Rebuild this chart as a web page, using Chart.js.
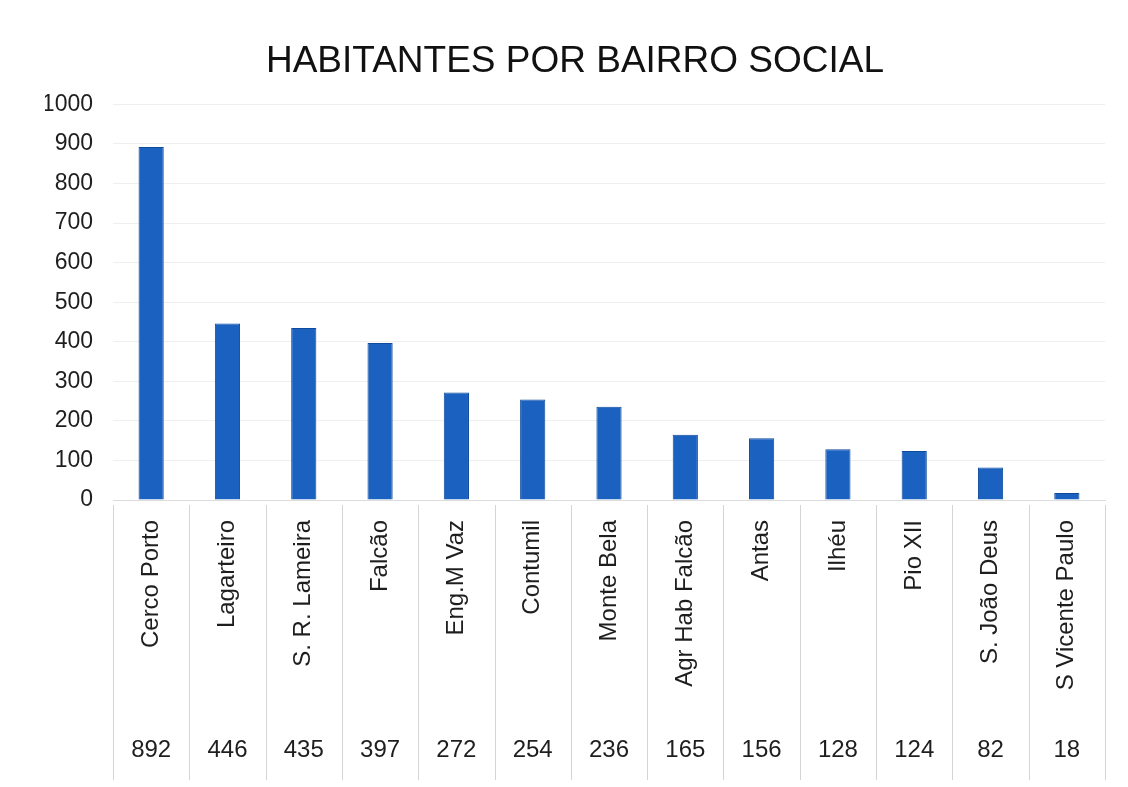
<!DOCTYPE html>
<html>
<head>
<meta charset="utf-8">
<script src="https://cdn.jsdelivr.net/npm/chart.js@4.4.1/dist/chart.umd.min.js"></script>
<style>
  html, body { margin: 0; padding: 0; background: #fff; }
  #wrap { width: 1128px; height: 787px; }
</style>
</head>
<body>
<div id="wrap"><canvas id="bairroChart"></canvas></div>
<script>
// data
const bairros = ['Cerco Porto', 'Lagarteiro', 'S. R. Lameira', 'Falcão', 'Eng.M Vaz', 'Contumil',
    'Monte Bela', 'Agr Hab Falcão', 'Antas', 'Ilhéu', 'Pio XII', 'S. João Deus', 'S Vicente Paulo'];
const habitantes = [892, 446, 435, 397, 272, 254, 236, 165, 156, 128, 124, 82, 18];
const yTicks = [0, 100, 200, 300, 400, 500, 600, 700, 800, 900, 1000];

const fontFamily = '"Liberation Sans", Arial, sans-serif';

// draws the data table under the axis: separators + values
const tablePlugin = {
    id: 'dataTable',
    afterDraw(chart) {
        const ctx = chart.ctx;
        const x = chart.scales.x;
        const step = x.getPixelForValue(1) - x.getPixelForValue(0);
        const top = chart.chartArea.bottom + 5;
        const bottom = 780;
        ctx.save();
        ctx.strokeStyle = '#d4d4d4';
        ctx.lineWidth = 1;
        for (let i = 0; i <= habitantes.length; i++) {
            const px = x.getPixelForValue(0) - step / 2 + i * step;
            ctx.beginPath();
            ctx.moveTo(Math.round(px) + 0.5, top);
            ctx.lineTo(Math.round(px) + 0.5, bottom);
            ctx.stroke();
        }
        ctx.fillStyle = '#1e1e1e';
        ctx.font = '24px ' + fontFamily;
        ctx.textAlign = 'center';
        ctx.textBaseline = 'middle';
        habitantes.forEach((v, i) => {
            ctx.fillText(String(v), x.getPixelForValue(i), 750);
        });
        ctx.restore();
    }
};

const ctx = document.getElementById('bairroChart').getContext('2d');
new Chart(ctx, {
    type: 'bar',
    data: {
        labels: bairros,
        datasets: [{
            data: habitantes,
            backgroundColor: '#1a61c0',
            borderColor: '#0f4a9c',
            borderWidth: 1,
            categoryPercentage: 1,
            barPercentage: 0.33
        }]
    },
    options: {
        responsive: true,
        maintainAspectRatio: false,
        animation: false,
        layout: { padding: { left: 45, right: 23, top: 0, bottom: 7 } },
        plugins: {
            legend: { display: false },
            tooltip: { enabled: false },
            title: {
                display: true,
                text: 'HABITANTES POR BAIRRO SOCIAL',
                color: '#111',
                font: { family: fontFamily, size: 37, weight: 'normal' },
                padding: { top: 40, bottom: 20 }
            }
        },
        scales: {
            y: {
                min: 0,
                max: 1000,
                afterBuildTicks(scale) {
                    scale.ticks = yTicks.map(v => ({ value: v }));
                },
                afterFit(scale) { scale.width = 68; },
                grid: { color: '#efefef', drawTicks: false },
                border: { display: false },
                ticks: {
                    color: '#1e1e1e',
                    padding: 20,
                    font: { family: fontFamily, size: 23 },
                    callback: v => String(v)
                }
            },
            x: {
                afterFit(scale) { scale.height = 280; },
                grid: { display: false },
                border: { display: true, color: '#dcdcdc' },
                ticks: {
                    color: '#1e1e1e',
                    padding: 12,
                    minRotation: 90,
                    maxRotation: 90,
                    autoSkip: false,
                    font: { family: fontFamily, size: 24 }
                }
            }
        }
    },
    plugins: [tablePlugin]
});
</script>
</body>
</html>
